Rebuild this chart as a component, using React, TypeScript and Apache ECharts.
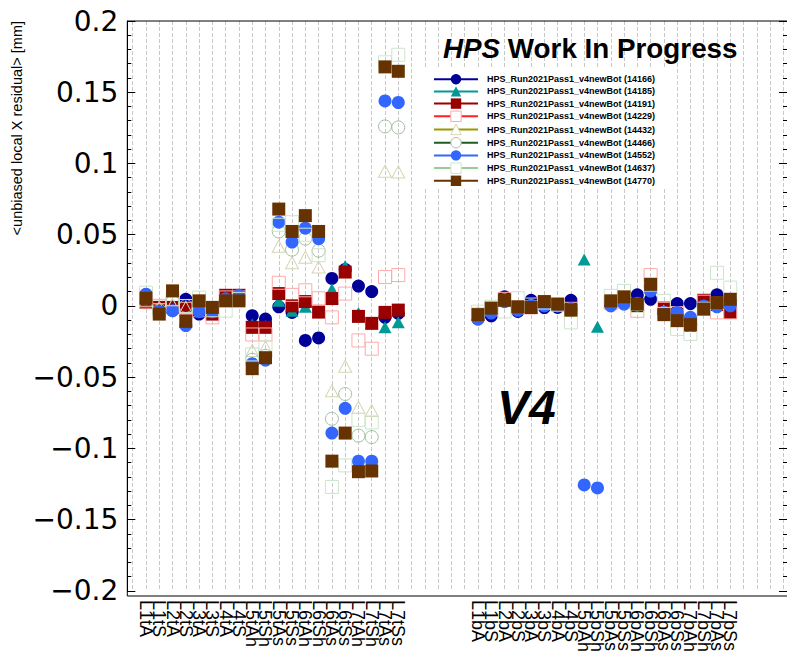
import React, { useEffect, useRef } from 'react';
import * as echarts from 'echarts';

// ---- categories ----
const topLabels = ['L1tA','L1tS','L2tA','L2tS','L3tA','L3tS','L4tA','L4tS','L5tAh','L5tSh','L5tAs','L5tSs','L6tAh','L6tSh','L6tAs','L6tSs','L7tAh','L7tSh','L7tAs','L7tSs'];
const botLabels = ['L1bA','L1bS','L2bA','L2bS','L3bA','L3bS','L4bA','L4bS','L5bAh','L5bSh','L5bAs','L5bSs','L6bAh','L6bSh','L6bAs','L6bSs','L7bAh','L7bSh','L7bAs','L7bSs'];

// ---- y ticks ----
const yMin = -0.2;
const yMax = 0.2;
const yStep = 0.05;

// ---- run names ----
const runNames = ['14166','14185','14191','14229','14432','14466','14552','14637','14770'];

// ---- series values (top volume, bottom volume) ----
const r14166Top = [0.008,-0.004,-0.003,0.0047,-0.0057,-0.003,0.004,0.006,-0.0068,-0.0092,-0.0006,-0.0045,-0.0242,-0.0224,0.0193,0.0256,0.014,0.0101,-0.008,-0.0052];
const r14166Bot = [-0.009,-0.0069,0.0064,-0.0038,0.004,-0.0011,-0.001,0.004,null,null,0.002,0.004,0.0078,0.0047,-0.003,0.0017,0.0017,0.002,0.0078,0.0025];

const r14185Top = [0.004,-0.002,0.0,0.0,-0.002,-0.004,0.005,0.006,-0.013,-0.014,0.0036,-0.0033,-0.0006,-0.004,0.0117,0.028,-0.005,-0.012,-0.015,-0.0115];
const r14185Bot = [-0.006,-0.002,0.004,-0.001,-0.001,0.002,0.001,-0.002,0.0326,-0.0145,0.003,0.004,0.0,0.013,-0.002,-0.006,-0.014,0.003,0.001,-0.004];

const r14191Top = [0.0024,-0.001,-0.001,-0.0015,-0.0022,-0.0057,0.0075,0.0075,-0.015,-0.015,0.0087,0.0001,0.0031,-0.0043,0.0052,0.0238,-0.0073,-0.0122,-0.0045,-0.0029];
const r14191Bot = [-0.006,-0.003,0.005,-0.001,-0.001,0.002,0.001,-0.002,null,null,0.003,0.004,0.0,0.014,-0.0015,-0.006,-0.012,0.004,0.001,-0.0045];

const r14229Top = [0.003,0.0001,0.002,-0.002,-0.003,-0.008,0.006,0.006,-0.02,-0.02,0.0163,0.0078,0.011,0.0054,-0.008,0.0087,-0.0242,-0.03,0.0203,0.0217];
const r14229Bot = [-0.006,-0.002,0.005,-0.001,-0.001,0.002,0.001,-0.002,null,null,0.002,0.003,-0.0034,0.0217,-0.002,-0.005,-0.012,0.003,-0.0045,-0.0045];

const r14432Top = [0.004,-0.001,0.001,-0.001,0.001,-0.002,0.004,0.005,-0.0312,-0.0289,0.0419,0.0303,0.0342,0.0273,-0.0595,-0.0423,-0.0711,-0.0734,0.0945,0.094];
const r14432Bot = [-0.005,-0.002,0.004,-0.001,0.0,0.002,0.001,-0.003,null,null,0.003,0.005,0.001,0.013,-0.004,-0.009,-0.013,-0.001,0.002,0.003];

const r14466Top = [0.006,-0.003,0.003,0.0,0.0,-0.002,0.004,0.005,-0.0377,-0.035,0.0523,0.0395,0.0472,0.0388,-0.0792,-0.0618,-0.091,-0.092,0.126,0.1253];
const r14466Bot = [-0.006,-0.002,0.004,-0.001,0.0,0.002,0.001,-0.003,null,null,0.003,0.005,0.001,0.014,-0.005,-0.009,-0.013,-0.001,0.002,0.004];

const r14552Top = [0.0082,-0.004,-0.0033,-0.0137,-0.004,-0.004,0.005,0.0075,-0.0405,-0.038,0.0588,0.0449,0.0546,0.0472,-0.0892,-0.0718,-0.1089,-0.1089,0.1439,0.1428];
const r14552Bot = [-0.0092,-0.005,0.003,-0.003,0.0,0.0,0.0,-0.002,-0.1256,-0.1277,0.0001,0.0013,0.002,0.0105,-0.0045,-0.0045,-0.008,0.0,-0.0006,0.0001];

const r14637Top = [0.0093,-0.003,0.0047,0.0,0.0059,-0.003,-0.0033,0.005,-0.034,-0.029,0.057,0.0588,0.05,0.0356,-0.127,-0.1119,-0.0799,-0.0817,0.171,0.1763];
const r14637Bot = [-0.004,-0.0005,-0.0038,0.0054,0.001,0.0024,0.001,-0.0115,null,null,0.0071,0.0105,0.0,0.015,0.0036,-0.0161,-0.0196,-0.002,0.0233,0.0129];

const r14770Top = [0.0054,-0.0057,0.0106,-0.0108,0.0036,-0.001,0.0036,0.0036,-0.044,-0.0363,0.068,0.0523,0.0634,0.0523,-0.1089,-0.0892,-0.1163,-0.1158,0.1678,0.1647];
const r14770Bot = [-0.0061,-0.0015,0.004,-0.0006,-0.0011,0.0031,0.0013,-0.0029,null,null,0.0036,0.0064,0.0013,0.0152,-0.0061,-0.0103,-0.0131,-0.0022,0.0024,0.0047];

const runTop = [r14166Top, r14185Top, r14191Top, r14229Top, r14432Top, r14466Top, r14552Top, r14637Top, r14770Top];
const runBot = [r14166Bot, r14185Bot, r14191Bot, r14229Bot, r14432Bot, r14466Bot, r14552Bot, r14637Bot, r14770Bot];

// ---- styles ----
const styles = [
  { symbol: 'circle', fill: '#000099', border: '#000099', line: '#000099', open: false },
  { symbol: 'triangle', fill: '#009a96', border: '#009a96', line: '#009a96', open: false },
  { symbol: 'rect', fill: '#990000', border: '#990000', line: '#990000', open: false },
  { symbol: 'rect', fill: 'rgba(0,0,0,0)', border: '#ffaaaa', line: '#ff2020', open: true },
  { symbol: 'triangle', fill: 'rgba(0,0,0,0)', border: '#d6d6b4', line: '#999900', open: true },
  { symbol: 'circle', fill: 'rgba(0,0,0,0)', border: '#a3bfa3', line: '#1f5c1f', open: true },
  { symbol: 'circle', fill: '#3366ff', border: '#3366ff', line: '#3366ff', open: false },
  { symbol: 'rect', fill: 'rgba(0,0,0,0)', border: '#cce5cc', line: '#99cc99', open: true },
  { symbol: 'rect', fill: '#663300', border: '#663300', line: '#663300', open: false },
];

const FONT = 'Liberation Sans, Arial, sans-serif';

function buildCategories(): string[] {
  return ['', ...topLabels, '', '', '', '', '', ...botLabels, '', '', '', ''];
}
function buildData(top: (number | null)[], bot: (number | null)[]) {
  return [null, ...top, null, null, null, null, null, ...bot, null, null, null, null];
}

export default function App() {
  const ref = useRef<HTMLDivElement>(null);
  useEffect(() => {
    document.body.style.margin = '0';
    if (!ref.current) return;
    const chart = echarts.init(ref.current, undefined, { renderer: 'svg' });
    const cats = buildCategories();
    const names = runNames.map((r) => `HPS_Run2021Pass1_v4newBot (${r})`);
    const series = names.map((name, i) => {
      const st = styles[i];
      return {
        name,
        type: 'line',
        data: buildData(runTop[i], runBot[i]),
        symbol: st.symbol,
        symbolSize: st.symbol === 'triangle' ? [13, 12] : 13,
        showSymbol: true,
        connectNulls: false,
        lineStyle: { width: 0, color: st.line },
        itemStyle: { color: st.fill, borderColor: st.border, borderWidth: st.open ? 1 : 0 },
        emphasis: { disabled: true },
        z: 3 + i,
      };
    });
    const yFmt = (v: number) => {
      if (Math.abs(v) < 1e-9) return '0';
      const s = parseFloat(Math.abs(v).toFixed(2)).toString();
      return (v < 0 ? '\u2212' : '') + s;
    };
    chart.setOption({
      animation: false,
      backgroundColor: '#ffffff',
      grid: { left: 132.7, right: 3.6, top: 21, bottom: 59, containLabel: false },
      xAxis: {
        type: 'category',
        data: cats,
        boundaryGap: false,
        axisLine: { show: false },
        axisTick: { show: false },
        axisLabel: {
          interval: 0,
          rotate: -90,
          margin: 9,
          fontSize: 18,
          color: '#000',
          fontFamily: FONT,
        },
        splitLine: {
          show: true,
          interval: 0,
          lineStyle: { color: '#c8c8c8', type: [4, 2], width: 1 },
        },
      },
      yAxis: [
        {
          type: 'value',
          min: yMin,
          max: yMax,
          interval: yStep,
          offset: 5.4,
          axisLine: { show: true, lineStyle: { color: '#000', width: 1 } },
          axisTick: { show: true, inside: true, length: 8, lineStyle: { color: '#000' } },
          minorTick: { show: true, splitNumber: 5, length: 4, lineStyle: { color: '#000' } },
          splitLine: { show: false },
          axisLabel: { fontSize: 28, color: '#000', margin: 9, fontFamily: 'DejaVu Sans', formatter: yFmt },
        },
        {
          type: 'value',
          min: yMin,
          max: yMax,
          interval: yStep,
          position: 'right',
          offset: 3.6,
          axisLine: { show: true, lineStyle: { color: '#000', width: 1 } },
          axisTick: { show: true, inside: true, length: 8, lineStyle: { color: '#000' } },
          minorTick: { show: true, splitNumber: 5, length: 4, lineStyle: { color: '#000' } },
          splitLine: { show: false },
          axisLabel: { show: false },
        },
      ],
      legend: {
        orient: 'vertical',
        left: 425,
        top: 69,
        padding: [5, 22, 3, 8],
        backgroundColor: '#ffffff',
        itemWidth: 44,
        itemHeight: 13,
        itemGap: 1.8,
        selectedMode: false,
        data: names.map((n, i) => ({
          name: n,
          itemStyle: styles[i].open ? { color: '#ffffff', borderColor: styles[i].border, borderWidth: 1 } : undefined,
        })),
        lineStyle: { width: 2 },
        textStyle: { fontSize: 9, fontWeight: 'bold', color: '#000', fontFamily: FONT, padding: [0, 0, 0, 4] },
      },
      graphic: [
        {
          type: 'rect',
          shape: { x: 127.3, y: 21, width: 662, height: 575 },
          style: { fill: 'none', stroke: '#000', lineWidth: 1 },
          silent: true,
          z: 10,
        },
        {
          type: 'text',
          x: 17,
          y: 21,
          rotation: Math.PI / 2,
          style: {
            text: '<unbiased local X residual> [mm]',
            fontSize: 14.5,
            fontFamily: FONT,
            fill: '#000',
            align: 'right',
            verticalAlign: 'middle',
          },
          z: 10,
        },
        {
          type: 'text',
          x: 443,
          y: 48,
          style: {
            text: '{a|HPS}{b| Work In Progress}',
            rich: {
              a: { fontSize: 27.8, fontWeight: 'bold', fontStyle: 'italic', fontFamily: FONT, fill: '#000' },
              b: { fontSize: 27.8, fontWeight: 'bold', fontFamily: FONT, fill: '#000' },
            },
            verticalAlign: 'middle',
            align: 'left',
          },
          z: 10,
        },
        {
          type: 'text',
          x: 497,
          y: 407,
          style: {
            text: 'V4',
            fontSize: 48,
            fontWeight: 'bold',
            fontStyle: 'italic',
            fontFamily: FONT,
            fill: '#000',
            verticalAlign: 'middle',
            align: 'left',
          },
          z: 10,
        },
      ],
      series,
    });
    return () => chart.dispose();
  }, []);
  return <div ref={ref} style={{ width: 787, height: 655 }} />;
}
